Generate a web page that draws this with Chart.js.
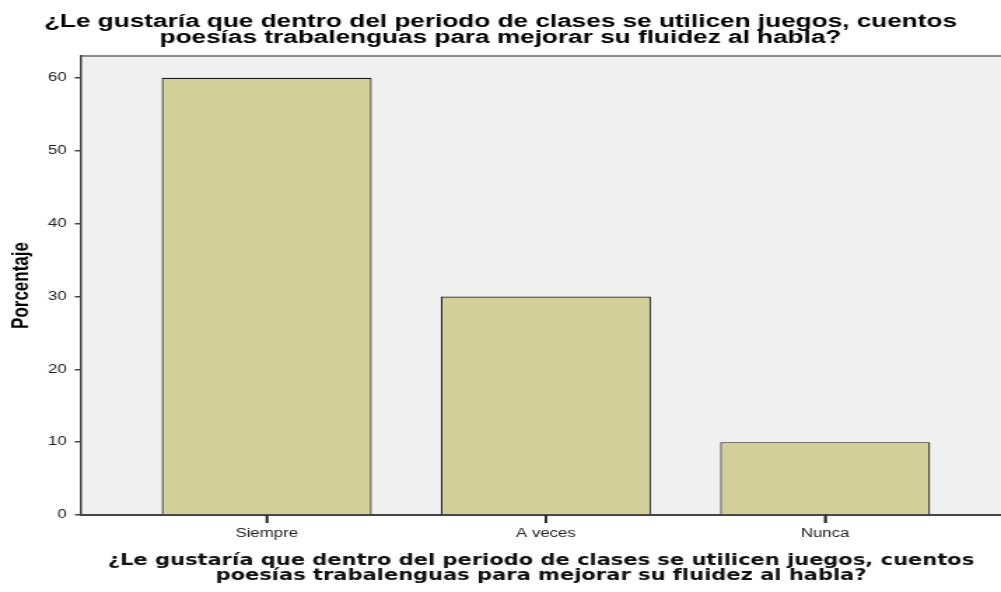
<!DOCTYPE html>
<html lang="es">
<head>
<meta charset="utf-8">
<title>Porcentaje</title>
<script src="https://cdn.jsdelivr.net/npm/chart.js@4.4.1/dist/chart.umd.min.js"></script>
<style>
  html, body { margin: 0; padding: 0; background: #fff; }
</style>
</head>
<body>
<!-- the source picture is stretched sideways, so draw narrow and scale the canvas up -->
<canvas id="chart" width="715" height="592" style="display:block;width:1001px;height:592px"></canvas>
<script>
const titleLines = [
  '¿Le gustaría que dentro del periodo de clases se utilicen juegos, cuentos',
  'poesías trabalenguas para mejorar su fluidez al habla?'
];
const categories = ['Siempre', 'A veces', 'Nunca'];
const percentages = [60, 30, 10];
const yTicks = [0, 10, 20, 30, 40, 50, 60];
const yAxisLabel = 'Porcentaje';

const sansFont = "'Liberation Sans', Arial, sans-serif";

// grey plot box + thin top frame line, like the SPSS output
const plotBackground = {
  id: 'plotBackground',
  beforeDraw(chart) {
    const {ctx, chartArea: area, width, height} = chart;
    ctx.save();
    ctx.fillStyle = '#ffffff';
    ctx.fillRect(0, 0, width, height);
    ctx.fillStyle = '#f0f0f0';
    ctx.fillRect(area.left, area.top, area.right - area.left, area.bottom - area.top);
    ctx.strokeStyle = '#8c8c8c';
    ctx.lineWidth = 2;
    ctx.beginPath();
    ctx.moveTo(area.left, area.top);
    ctx.lineTo(area.right, area.top);
    ctx.stroke();
    ctx.restore();
  },
  afterDraw(chart) {
    // category tick marks under the axis line
    const {ctx} = chart;
    const xScale = chart.scales.x;
    ctx.save();
    ctx.strokeStyle = '#222222';
    ctx.lineWidth = 1.6;
    xScale.ticks.forEach((tick, i) => {
      const px = xScale.getPixelForTick(i);
      ctx.beginPath();
      ctx.moveTo(px, xScale.top);
      ctx.lineTo(px, xScale.top + 8);
      ctx.stroke();
    });
    ctx.restore();
  }
};

function getChartOptions() {
  return {
    type: 'bar',
    data: {
      datasets: [{
        data: categories.map((name, i) => ({x: i, y: percentages[i]})),
        backgroundColor: '#d3cf98',
        borderColor: '#1a1a1a',
        borderWidth: 1.2,
        barPercentage: 0.752,
        categoryPercentage: 1
      }]
    },
    plugins: [plotBackground],
    options: {
      responsive: false,
      animation: false,
      devicePixelRatio: 1,
      events: [],
      layout: {
        padding: 0
      },
      scales: {
        x: {
          type: 'linear',
          offset: false,
          min: -0.665,
          max: 2.63,
          afterBuildTicks: (scale) => {
            scale.ticks = categories.map((name, i) => ({value: i}));
          },
          afterFit: (scale) => {
            scale.height = 77;
          },
          border: {
            color: '#444444',
            width: 2
          },
          grid: {
            offset: false,
            drawOnChartArea: false,
            tickLength: 8,
            color: '#222222',
            lineWidth: 1.6
          },
          ticks: {
            autoSkip: false,
            maxRotation: 0,
            padding: 3,
            color: '#222222',
            font: {family: sansFont, size: 12},
            callback: (value) => categories[value]
          },
          title: {
            display: true,
            text: titleLines,
            color: '#111111',
            padding: {top: 0, bottom: 8.5},
            font: {family: "'DejaVu Sans', Verdana, sans-serif", size: 15, weight: 'bold', lineHeight: '15px'}
          }
        },
        y: {
          min: 0,
          max: 63,
          afterBuildTicks: (scale) => {
            scale.ticks = yTicks.map((value) => ({value: value}));
          },
          afterFit: (scale) => {
            scale.width = 57.9;
          },
          border: {
            color: '#444444',
            width: 1.5
          },
          grid: {
            drawOnChartArea: false,
            tickLength: 4.5,
            color: '#444444',
            lineWidth: 1.5
          },
          ticks: {
            padding: 5.7,
            color: '#222222',
            font: {family: sansFont, size: 12}
          },
          title: {
            display: true,
            text: yAxisLabel,
            color: '#000000',
            padding: {top: 4.8, bottom: 0},
            font: {family: sansFont, size: 17, weight: 'bold', lineHeight: 1.2}
          }
        }
      },
      plugins: {
        legend: {
          display: false
        },
        tooltip: {
          enabled: false
        },
        title: {
          display: true,
          text: titleLines,
          color: '#000000',
          padding: {top: 14, bottom: 10},
          font: {family: sansFont, size: 18.7, weight: 'bold', lineHeight: '16px'}
        }
      }
    }
  };
}

const ctx = document.getElementById('chart').getContext('2d');
new Chart(ctx, getChartOptions());
</script>
</body>
</html>
